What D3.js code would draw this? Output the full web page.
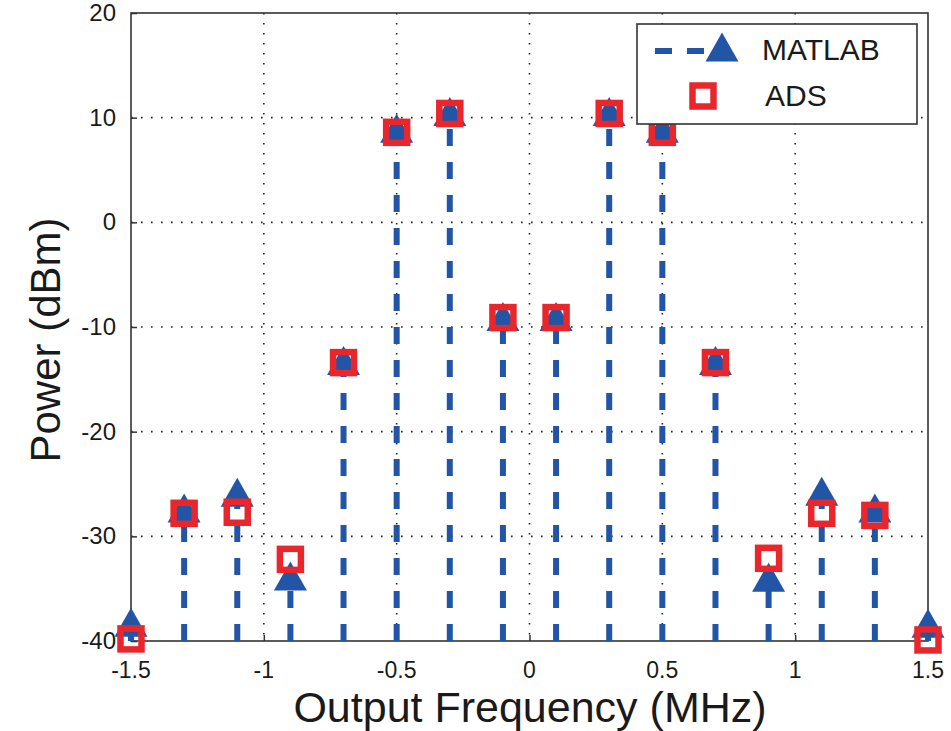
<!DOCTYPE html>
<html>
<head>
<meta charset="utf-8">
<script src="https://cdn.jsdelivr.net/npm/d3@7"></script>
<style>
  body { margin: 0; background: #fff; }
  text { font-family: "Liberation Sans", Arial, sans-serif; fill: #1a1a1a; }
</style>
</head>
<body>
<svg id="chart" width="951" height="731"></svg>
<script>
// frequency bins (MHz)
const freqs = [-1.5, -1.3, -1.1, -0.9, -0.7, -0.5, -0.3, -0.1, 0.1, 0.3, 0.5, 0.7, 0.9, 1.1, 1.3, 1.5];
// power in dBm
const matlabPower = [-38.2, -27.3, -25.8, -33.8, -13.2, 9.0, 10.6, -9.0, -9.0, 10.6, 9.0, -13.2, -33.9, -25.7, -27.3, -38.3];
const adsPower = [-39.8, -27.8, -27.7, -32.2, -13.4, 8.6, 10.4, -9.1, -9.1, 10.4, 8.6, -13.4, -32.1, -27.8, -28.0, -39.9];
const xTicks = [-1.5, -1, -0.5, 0, 0.5, 1, 1.5];
const yTicks = [-40, -30, -20, -10, 0, 10, 20];

const blue = "#2255a6";
const red = "#e8262c";

const svg = d3.select("#chart");

const x = d3.scaleLinear().domain([-1.5, 1.5]).range([131, 928]);
const y = d3.scaleLinear().domain([-40, 20]).range([641, 13]);

// dotted grid
svg.append("g")
    .selectAll("line")
    .data(xTicks.slice(1, -1))
    .enter()
    .append("line")
    .attr("x1", d => x(d)).attr("x2", d => x(d))
    .attr("y1", y(20)).attr("y2", y(-40))
    .attr("stroke", "#222")
    .attr("stroke-width", 1.6)
    .attr("stroke-dasharray", "1.6,8.4");

svg.append("g")
    .selectAll("line")
    .data(yTicks.slice(1, -1))
    .enter()
    .append("line")
    .attr("y1", d => y(d)).attr("y2", d => y(d))
    .attr("x1", x(-1.5)).attr("x2", x(1.5))
    .attr("stroke", "#222")
    .attr("stroke-width", 1.6)
    .attr("stroke-dasharray", "1.6,8.4");

// axes (ticks inward)
svg.append("g")
    .attr("transform", `translate(0,${y(-40)})`)
    .call(d3.axisTop(x).tickValues(xTicks).tickSize(6).tickFormat(""));
svg.append("g")
    .attr("transform", `translate(${x(-1.5)},0)`)
    .call(d3.axisRight(y).tickValues(yTicks).tickSize(6).tickFormat(""));
svg.selectAll(".domain").remove();
svg.selectAll(".tick line").attr("stroke", "#333").attr("stroke-width", 1.5);

// box
svg.append("rect")
    .attr("x", x(-1.5)).attr("y", y(20))
    .attr("width", x(1.5) - x(-1.5))
    .attr("height", y(-40) - y(20))
    .attr("fill", "none")
    .attr("stroke", "#333")
    .attr("stroke-width", 1.6);

// tick labels
svg.append("g")
    .selectAll("text")
    .data(xTicks)
    .enter()
    .append("text")
    .attr("x", d => x(d))
    .attr("y", 678)
    .attr("text-anchor", "middle")
    .style("font-size", "23px")
    .text(d => d);

svg.append("g")
    .selectAll("text")
    .data(yTicks)
    .enter()
    .append("text")
    .attr("x", 116)
    .attr("y", d => y(d) + 8)
    .attr("text-anchor", "end")
    .style("font-size", "24px")
    .text(d => d);

// stems
svg.append("g")
    .selectAll("line")
    .data(matlabPower)
    .enter()
    .append("line")
    .attr("x1", (d, i) => x(freqs[i]))
    .attr("x2", (d, i) => x(freqs[i]))
    .attr("y1", y(-40))
    .attr("y2", d => y(d))
    .attr("stroke", blue)
    .attr("stroke-width", 6)
    .attr("stroke-dasharray", "17,16");

// MATLAB triangles
const tri = "M0,-14.5L16.5,14.5L-16.5,14.5Z";
svg.append("g")
    .selectAll("path")
    .data(matlabPower)
    .enter()
    .append("path")
    .attr("d", tri)
    .attr("transform", (d, i) => `translate(${x(freqs[i])},${y(d)})`)
    .attr("fill", blue);

// ADS squares
svg.append("g")
    .selectAll("rect")
    .data(adsPower)
    .enter()
    .append("rect")
    .attr("x", (d, i) => x(freqs[i]) - 10.5)
    .attr("y", d => y(d) - 10.5)
    .attr("width", 21)
    .attr("height", 21)
    .attr("fill", "none")
    .attr("stroke", red)
    .attr("stroke-width", 6.5);

// axis titles
svg.append("text")
    .attr("x", 530)
    .attr("y", 722)
    .attr("text-anchor", "middle")
    .style("font-size", "43px")
    .text("Output Frequency (MHz)");

svg.append("text")
    .attr("transform", "translate(60,340) rotate(-90)")
    .attr("text-anchor", "middle")
    .style("font-size", "42px")
    .text("Power (dBm)");

// legend
const legend = svg.append("g");
legend.append("rect")
    .attr("x", 637).attr("y", 24)
    .attr("width", 280).attr("height", 100)
    .attr("fill", "#fff")
    .attr("stroke", "#333")
    .attr("stroke-width", 1.6);
legend.append("line")
    .attr("x1", 655).attr("x2", 706)
    .attr("y1", 51).attr("y2", 51)
    .attr("stroke", blue)
    .attr("stroke-width", 6)
    .attr("stroke-dasharray", "17,15");
legend.append("path")
    .attr("d", tri)
    .attr("transform", "translate(722,47)")
    .attr("fill", blue);
legend.append("rect")
    .attr("x", 692.5).attr("y", 85.5)
    .attr("width", 21).attr("height", 21)
    .attr("fill", "none")
    .attr("stroke", red)
    .attr("stroke-width", 6.5);
legend.append("text")
    .attr("x", 762).attr("y", 60)
    .style("font-size", "30px")
    .text("MATLAB");
legend.append("text")
    .attr("x", 765).attr("y", 106)
    .style("font-size", "30px")
    .text("ADS");
</script>
</body>
</html>
